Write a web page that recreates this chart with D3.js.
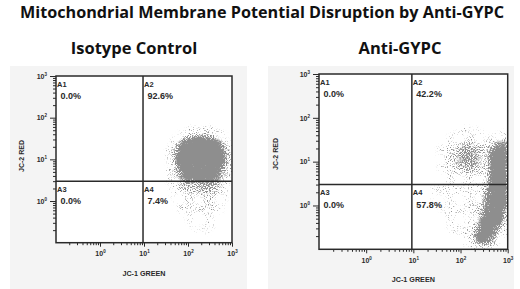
<!DOCTYPE html>
<html>
<head>
<meta charset="utf-8">
<script src="https://cdn.jsdelivr.net/npm/d3@7"></script>
<style>
  body { margin: 0; background: #fff; }
  svg { display: block; }
  text { font-family: "Liberation Sans", Arial, sans-serif; }
</style>
</head>
<body>
<svg id="chart" width="520" height="289"></svg>
<script>
// ---- data ----
const mainTitle = "Mitochondrial Membrane Potential Disruption by Anti-GYPC";
const panelTitles = ["Isotype Control", "Anti-GYPC"];
const quadrantNames = ["A1", "A2", "A3", "A4"];
const isotypePercents = ["0.0%", "92.6%", "0.0%", "7.4%"];
const antiPercents = ["0.0%", "42.2%", "0.0%", "57.8%"];
const xAxisTitle = "JC-1 GREEN";
const yAxisTitle = "JC-2 RED";
const axisDomain = [0.1, 1000];
const majorTicks = [1, 10, 100, 1000];
const gateX = [9.5, 9.3];   // vertical quadrant line (green)
const gateY = [3.0, 3.0];   // horizontal quadrant line (red)

// event density, 0..9, in 0.1-decade bins; rows start at log10(red) = 1.9 and go down
const densityStartY = 1.9;
const isotypeStartX = 1.5;
const isotypeDensity = [
  "000000000000000",
  "000001111110000",
  "000112233321100",
  "001245666654210",
  "013688999987520",
  "025899999999741",
  "136999999999852",
  "147999999999873",
  "147999999999873",
  "147999999999873",
  "136999999999862",
  "136899999999742",
  "125789999998641",
  "124678888887531",
  "113566667776421",
  "012455556665320",
  "012344455554310",
  "011333344443210",
  "001232233332210",
  "001222223332100",
  "001121122221100",
  "000111112211100",
  "000111111111000",
  "000011011111000",
  "000001001110000",
  "000000101010000",
  "000000010100000",
  "000000000000000",
  "000000000000000"
];
const antiStartX = 1.2;
const antiDensity = [
  "000000000000000000",
  "000000001101000000",
  "000000111221100011",
  "000001122222211233",
  "000011234443323566",
  "000112345555435788",
  "000123456665437999",
  "000123456666438999",
  "000123456666448999",
  "000123456665438999",
  "000112345555338999",
  "000012234444338999",
  "000011222222238999",
  "000111222222348999",
  "001111222222359999",
  "001111122222369999",
  "001111112222369999",
  "001111111222479999",
  "000111111223479998",
  "000111111123589997",
  "000011111123589996",
  "000011111124699985",
  "000001111124799974",
  "000001111235899863",
  "000000111236899742",
  "000000111247998631",
  "000000011247987520",
  "000000011136776410",
  "000000000012221100"
];

const panels = [
  { title: panelTitles[0], percents: isotypePercents, density: isotypeDensity, startX: isotypeStartX, gx: gateX[0], gy: gateY[0],
    left: 56, top: 76, right: 232, bottom: 242.7, bg: [10, 66, 237, 223], titleX: 134, yTitleX: 24, yTitleY: 156 },
  { title: panelTitles[1], percents: antiPercents, density: antiDensity, startX: antiStartX, gx: gateX[1], gy: gateY[1],
    left: 319, top: 74, right: 507.7, bottom: 249.3, bg: [268, 66, 246, 223], titleX: 400, yTitleX: 278, yTitleY: 154 }
];

const svg = d3.select("#chart");
const ink = "#2a2a2a";

svg.append("text")
  .attr("x", 262).attr("y", 17.5)
  .attr("text-anchor", "middle")
  .style("font-family", "'Open Sans', sans-serif")
  .attr("font-weight", "bold").attr("font-size", 16.2)
  .attr("fill", "#111")
  .text(mainTitle);

let minorTicks = [];
for (let e = -1; e < 3; e++) {
  for (let m = 2; m <= 9; m++) minorTicks.push(m * Math.pow(10, e));
}

function supLabels(sel) {
  sel.each(function(d) {
    let t = d3.select(this);
    t.text(null);
    t.append("tspan").text("10");
    t.append("tspan").attr("dy", -3).attr("font-size", 4.5).text(Math.round(Math.log10(d)));
  });
}

panels.forEach((p, k) => {
  let g = svg.append("g");

  g.append("rect")
    .attr("x", p.bg[0]).attr("y", p.bg[1])
    .attr("width", p.bg[2]).attr("height", p.bg[3])
    .attr("fill", "#f4f4f4");

  g.append("text")
    .attr("x", p.titleX).attr("y", 54)
    .attr("text-anchor", "middle")
    .style("font-family", "'Open Sans', sans-serif")
    .attr("font-weight", "bold").attr("font-size", 16.5)
    .attr("fill", "#111")
    .text(p.title);

  let x = d3.scaleLog().domain(axisDomain).range([p.left, p.right]);
  let y = d3.scaleLog().domain(axisDomain).range([p.bottom, p.top]);

  g.append("rect")
    .attr("x", p.left).attr("y", p.top)
    .attr("width", p.right - p.left).attr("height", p.bottom - p.top)
    .attr("fill", "#fff");

  // dotted cloud: density cells, blurred, then dithered against noise
  let fid = "speckle" + k;
  let f = svg.append("defs").append("filter")
    .attr("id", fid)
    .attr("filterUnits", "userSpaceOnUse")
    .attr("x", p.left).attr("y", p.top)
    .attr("width", p.right - p.left).attr("height", p.bottom - p.top)
    .attr("color-interpolation-filters", "sRGB");
  f.append("feGaussianBlur").attr("in", "SourceAlpha").attr("stdDeviation", 2.2).attr("result", "dens");
  f.append("feComponentTransfer").attr("in", "dens").attr("result", "dens2")
    .append("feFuncA").attr("type", "gamma").attr("amplitude", 1).attr("exponent", 2).attr("offset", 0);
  f.append("feTurbulence").attr("type", "fractalNoise").attr("baseFrequency", 0.95)
    .attr("numOctaves", 1).attr("seed", 5 + k).attr("result", "turb");
  f.append("feColorMatrix").attr("in", "turb").attr("type", "matrix")
    .attr("values", "0 0 0 0 0  0 0 0 0 0  0 0 0 0 0  1 0 0 0 0").attr("result", "noise");
  // threshold T = 0.30 + 0.62*A^2, alpha = 6*(T - N) + 0.5
  f.append("feComposite").attr("in", "dens2").attr("in2", "noise").attr("operator", "arithmetic")
    .attr("k1", 0).attr("k2", 3.72).attr("k3", -6).attr("k4", 2.3).attr("result", "dots");
  f.append("feComponentTransfer").attr("in", "dens").attr("result", "mask")
    .append("feFuncA").attr("type", "linear").attr("slope", 9).attr("intercept", -0.05);
  f.append("feComposite").attr("in", "dots").attr("in2", "mask").attr("operator", "in").attr("result", "cut");
  f.append("feColorMatrix").attr("in", "cut").attr("type", "matrix")
    .attr("values", "0 0 0 0 0.52  0 0 0 0 0.52  0 0 0 0 0.52  0 0 0 0.92 0");

  let cells = [];
  p.density.forEach((row, j) => {
    row.split("").forEach((c, i) => {
      if (+c > 0) cells.push({ lx: p.startX + i * 0.1, ly: densityStartY - j * 0.1, v: +c });
    });
  });

  g.append("g").attr("filter", "url(#" + fid + ")")
    .selectAll("rect")
    .data(cells)
    .enter()
    .append("rect")
      .attr("x", d => x(Math.pow(10, d.lx)))
      .attr("y", d => y(Math.pow(10, d.ly)))
      .attr("width", d => x(Math.pow(10, d.lx + 0.1)) - x(Math.pow(10, d.lx)))
      .attr("height", d => y(Math.pow(10, d.ly - 0.1)) - y(Math.pow(10, d.ly)))
      .attr("fill", "#000")
      .attr("fill-opacity", d => d.v / 9);

  // axes
  let yMinor = g.append("g").attr("transform", "translate(" + p.left + ",0)")
    .call(d3.axisLeft(y).tickValues(minorTicks).tickSize(3).tickFormat(""));
  let yMajor = g.append("g").attr("transform", "translate(" + p.left + ",0)")
    .call(d3.axisLeft(y).tickValues(majorTicks).tickSize(6).tickPadding(3));
  let xMinor = g.append("g").attr("transform", "translate(0," + p.bottom + ")")
    .call(d3.axisBottom(x).tickValues(minorTicks).tickSize(2.5).tickFormat(""));
  let xMajor = g.append("g").attr("transform", "translate(0," + p.bottom + ")")
    .call(d3.axisBottom(x).tickValues(majorTicks).tickSize(4).tickPadding(4.5));

  [yMinor, yMajor, xMinor, xMajor].forEach(a => {
    a.select(".domain").remove();
    a.selectAll("line").attr("stroke", ink).attr("stroke-width", 1);
  });
  [yMajor, xMajor].forEach(a => {
    a.selectAll("text")
      .attr("font-size", 7).attr("font-weight", "bold")
      .attr("fill", ink)
      .style("font-family", "'Liberation Sans', Arial, sans-serif")
      .call(supLabels);
  });

  // frame and quadrant gates
  g.append("rect")
    .attr("x", p.left).attr("y", p.top)
    .attr("width", p.right - p.left).attr("height", p.bottom - p.top)
    .attr("fill", "none").attr("stroke", ink).attr("stroke-width", 1.5);
  g.append("line")
    .attr("x1", x(p.gx)).attr("x2", x(p.gx))
    .attr("y1", p.top).attr("y2", p.bottom)
    .attr("stroke", ink).attr("stroke-width", 1.5);
  g.append("line")
    .attr("x1", p.left).attr("x2", p.right)
    .attr("y1", y(p.gy)).attr("y2", y(p.gy))
    .attr("stroke", ink).attr("stroke-width", 1.5);

  // quadrant labels
  let corners = [
    [p.left + 1, p.top], [x(p.gx) + 1, p.top],
    [p.left + 1, y(p.gy)], [x(p.gx) + 1, y(p.gy)]
  ];
  quadrantNames.forEach((name, q) => {
    g.append("text")
      .attr("x", corners[q][0]).attr("y", corners[q][1] + 10.5)
      .attr("font-size", 7.5).attr("font-weight", "bold").attr("fill", ink)
      .text(name);
    g.append("text")
      .attr("x", corners[q][0] + 3.5).attr("y", corners[q][1] + 23)
      .attr("font-size", 9).attr("font-weight", "bold").attr("fill", ink)
      .text(p.percents[q]);
  });

  // axis titles
  g.append("text")
    .attr("x", (p.left + p.right) / 2).attr("y", p.bottom + 33)
    .attr("text-anchor", "middle")
    .attr("font-size", 7.2).attr("font-weight", "bold").attr("fill", ink)
    .text(xAxisTitle);
  g.append("text")
    .attr("transform", "translate(" + p.yTitleX + "," + p.yTitleY + ") rotate(-90)")
    .attr("text-anchor", "middle")
    .attr("font-size", 7).attr("font-weight", "bold").attr("fill", ink)
    .text(yAxisTitle);
});
</script>
</body>
</html>
